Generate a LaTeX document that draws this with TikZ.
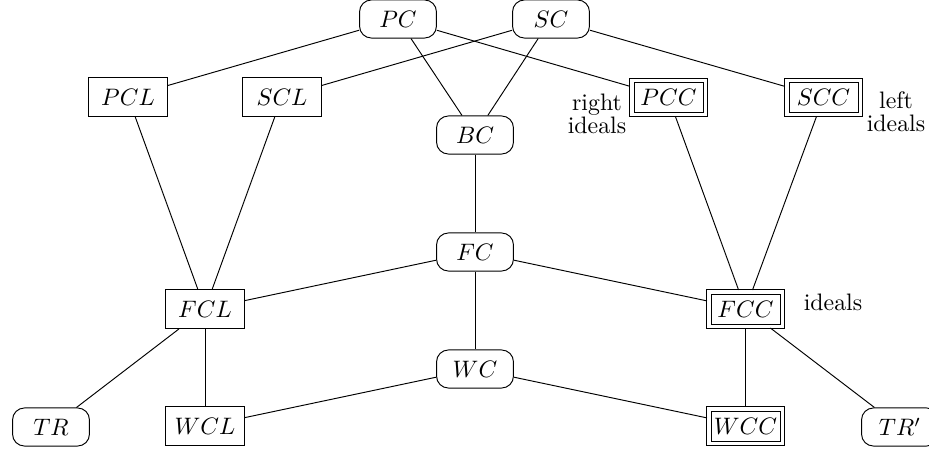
\documentclass[tikz,border=0pt]{standalone}
\usepackage{tikz}
\begin{document}
\begin{tikzpicture}[x=0.42pt, y=-0.42pt,
   cls/.style={draw, rounded corners=5pt, minimum width=32.3pt, minimum height=16pt, inner sep=2pt},
   lft/.style={draw, minimum width=32.8pt, minimum height=16.4pt, inner sep=2pt},
   ccl/.style={draw, minimum width=29pt, minimum height=12.6pt, inner sep=1pt, outer sep=1.7pt}
   ]
   \useasboundingbox (0,0) rectangle (929,451);
   % classes
   \node [cls] (pc) at (398,19) {$PC$};
   \node [cls] (sc) at (551,19) {$SC$};
   \node [cls] (bc) at (475,135) {$BC$};
   \node [cls] (fc) at (475,252) {$FC$};
   \node [cls] (wc) at (475,369) {$WC$};
   \node [cls] (tr) at (51,427) {$TR$};
   \node [cls] (trp) at (900,427) {$TR'$};
   % left ideals
   \node [lft] (pcl) at (128,97) {$PCL$};
   \node [lft] (scl) at (282,97) {$SCL$};
   \node [lft] (fcl) at (205,309) {$FCL$};
   \node [lft] (wcl) at (205,426) {$WCL$};
   % ideals
   \node [ccl] (pcc) at (668.5,97.5) {$PCC$};
   \node [ccl] (scc) at (823.5,97.5) {$SCC$};
   \node [ccl] (fcc) at (745.5,309) {$FCC$};
   \node [ccl] (wcc) at (745.5,426) {$WCC$};
   \foreach \n in {pcc,scc,fcc,wcc}
      \draw (\n.south west) rectangle (\n.north east);
   % labels
   \node [align=center] (rid) at (597,114) {right\\[-2.3pt]ideals};
   \node [align=center] (lid) at (896,112) {left\\[-2.3pt]ideals};
   \node (idl) at (833,302) {ideals};
   % edges
   \draw (pc) -- (pcl);
   \draw (pc) -- (pcc);
   \draw (pc) -- (bc);
   \draw (sc) -- (scl);
   \draw (sc) -- (scc);
   \draw (sc) -- (bc);
   \draw (pcl) -- (fcl);
   \draw (scl) -- (fcl);
   \draw (pcc) -- (fcc);
   \draw (scc) -- (fcc);
   \draw (bc) -- (fc);
   \draw (fc) -- (fcl);
   \draw (fc) -- (fcc);
   \draw (fc) -- (wc);
   \draw (fcl) -- (tr);
   \draw (fcl) -- (wcl);
   \draw (fcc) -- (wcc);
   \draw (fcc) -- (trp);
   \draw (wc) -- (wcl);
   \draw (wc) -- (wcc);
\end{tikzpicture}
\end{document}
